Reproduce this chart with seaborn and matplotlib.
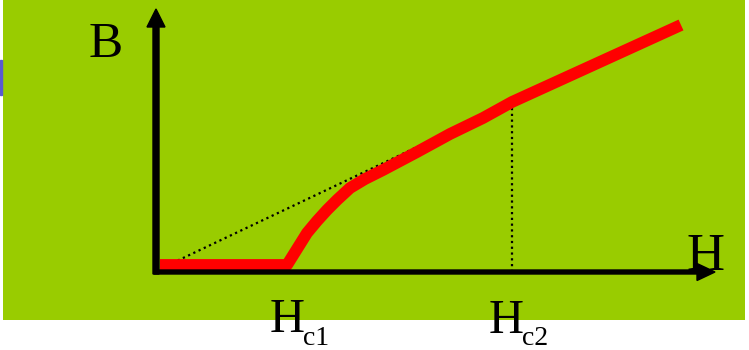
import pandas as pd
import matplotlib
matplotlib.use('Agg')
import matplotlib.pyplot as plt
from matplotlib.patches import Rectangle
import seaborn as sns

# curva B(H) (unidades arbitrarias)
h_curve = [0.04, 1.31, 1.41, 1.51, 1.61, 1.71, 1.81, 1.94, 2.09, 2.27, 2.61, 2.94, 3.27, 3.56, 5.25]
b_curve = [0.07, 0.07, 0.23, 0.39, 0.51, 0.62, 0.72, 0.84, 0.93, 1.02, 1.20, 1.38, 1.54, 1.70, 2.47]

hc1 = 1.31
hc2 = 3.56
b_hc2 = 1.70
h_start = 0.06
b_start = 0.04

green = '#99CC00'
font = 'Liberation Serif'

df = pd.DataFrame({'H': h_curve, 'B': b_curve})
df_diag = pd.DataFrame({'H': [h_start, hc2], 'B': [b_start, b_hc2]})
df_vert = pd.DataFrame({'H': [hc2, hc2], 'B': [0, b_hc2]})

fig = plt.figure(figsize=(7.49, 3.5), dpi=100)
ax = fig.add_axes([3 / 749, 30 / 350, 742 / 749, 320 / 350])
ax.set_facecolor(green)

dots = dict(sort=False, estimator=None, color='black', lw=1.6,
            linestyle=(0, (1, 1.6)), ax=ax, zorder=2)
sns.lineplot(data=df_diag, x='H', y='B', **dots)
sns.lineplot(data=df_vert, x='H', y='B', **dots)
sns.lineplot(data=df, x='H', y='B', sort=False, estimator=None, color='#FF0000', lw=8.5,
             solid_capstyle='butt', solid_joinstyle='round', ax=ax, zorder=3)

# ejes con flechas
ax.arrow(0, -0.02, 0, 2.65, width=0.06, head_width=0.18, head_length=0.18,
         length_includes_head=True, color='black', zorder=4)
ax.arrow(-0.02, 0, 5.61, 0, width=0.04, head_width=0.17, head_length=0.18,
         length_includes_head=True, color='black', zorder=4)

ax.set_xlim(-1.53, 5.89)
ax.set_ylim(-0.48, 2.72)
ax.set_xlabel('')
ax.set_ylabel('')
ax.set_xticks([])
ax.set_yticks([])
for s in ax.spines.values():
    s.set_visible(False)

ax.text(-0.50, 2.15, 'B', fontsize=37, family=font, ha='center', va='baseline')
ax.text(5.495, 0.02, 'H', fontsize=38, family=font, ha='center', va='baseline', zorder=5)
ax.text(hc1, -0.60, 'H', fontsize=35, family=font, ha='center', va='baseline')
ax.text(hc1 + 0.16, -0.73, 'c1', fontsize=20, family=font, ha='left', va='baseline')
ax.text(hc2 - 0.06, -0.61, 'H', fontsize=35, family=font, ha='center', va='baseline')
ax.text(hc2 + 0.10, -0.73, 'c2', fontsize=20, family=font, ha='left', va='baseline')

# marca azul en el borde izquierdo
fig.patches.append(Rectangle((0, 255 / 350), 1.5 / 749, 35 / 350, transform=fig.transFigure,
                             color='#5A5AD0', zorder=5))

fig.savefig('out.png', dpi=100)
